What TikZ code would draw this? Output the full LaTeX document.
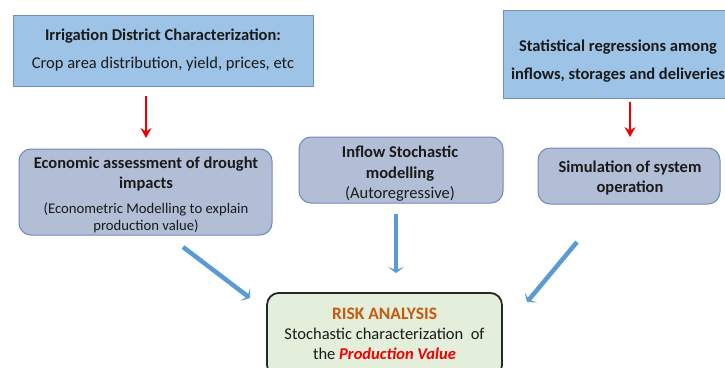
\documentclass[tikz,border=0pt]{standalone}
\usepackage{fontspec}
\setmainfont{Carlito}
\usetikzlibrary{arrows.meta}
\definecolor{topfill}{HTML}{9DC3E6}
\definecolor{topdraw}{HTML}{6C8EC4}
\definecolor{midfill}{HTML}{B2BED6}
\definecolor{middraw}{HTML}{6F8AB8}
\definecolor{riskfill}{HTML}{E3EEDB}
\definecolor{riskorange}{HTML}{C55A11}
\definecolor{arrowblue}{HTML}{5B9BD5}
\definecolor{arrowred}{HTML}{F00000}
\definecolor{txt}{HTML}{1A1A1A}
\tikzset{
  topbox/.style={draw=topdraw, fill=topfill, line width=1pt, inner sep=0pt},
  midbox/.style={draw=middraw, fill=midfill, line width=1pt, rounded corners=12pt, inner sep=0pt},
  riskbox/.style={draw=black!85, fill=riskfill, line width=1.8pt, rounded corners=12pt, inner sep=0pt},
  lbl/.style={align=center, inner sep=0pt, text=txt},
  redarrow/.style={draw=arrowred, line width=2.4pt, -{Stealth[length=10pt,width=11pt,inset=3.5pt]}},
  bluearrow/.style={draw=arrowblue, line width=4.5pt, -{Stealth[length=6pt,width=16pt,inset=3pt]}}
}
\begin{document}
\begin{tikzpicture}[x=1pt,y=-1pt]
\useasboundingbox (0,0) rectangle (725,367);
\clip (0,0) rectangle (725,367);

% top boxes
\node[topbox, minimum width=300pt, minimum height=71pt] (irr) at (163,50.5) {};
\node[lbl, font=\fontsize{16.5}{28}\selectfont] (irrtxt) at (163,50.5)
  {\textbf{Irrigation District Characterization:}\\Crop area distribution, yield, prices, etc};
\node[topbox, minimum width=229pt, minimum height=88pt] (stat) at (617.5,54) {};
\node[lbl, font=\bfseries\fontsize{16.5}{28}\selectfont] (stattxt) at (618,61.5)
  {Statistical regressions among\\inflows, storages and deliveries};

% middle boxes
\node[midbox, minimum width=253pt, minimum height=86pt] (eco) at (145.5,192) {};
\node[lbl, font=\bfseries\fontsize{16.5}{20}\selectfont] (ecotxt) at (146,195)
  {Economic assessment of drought\\impacts\\[5pt]
   {\mdseries\fontsize{14.7}{17}\selectfont (Econometric Modelling to explain}\\[-3pt]
   {\mdseries\fontsize{14.7}{17}\selectfont production value)}};
\node[midbox, minimum width=204pt, minimum height=66pt] (inf) at (401,170) {};
\node[lbl, font=\fontsize{16.5}{20.5}\selectfont] (inftxt) at (400,174)
  {\textbf{Inflow Stochastic}\\\textbf{modelling}\\(Autoregressive)};
\node[midbox, minimum width=182pt, minimum height=56pt] (sim) at (629,176) {};
\node[lbl, font=\bfseries\fontsize{16.5}{20}\selectfont] (simtxt) at (630,178)
  {Simulation of system\\operation};

% risk box
\node[riskbox, minimum width=235pt, minimum height=84pt, anchor=north] (risk) at (384.5,292) {};
\node[lbl, font=\fontsize{16.5}{20}\selectfont] (risktxt) at (384.5,333.5)
  {{\fontsize{17.5}{20}\selectfont\bfseries\color{riskorange}RISK ANALYSIS}\\
   Stochastic characterization\ \ of\\
   the {\color{arrowred}\bfseries\itshape Production Value}};

% red arrows
\coordinate (r1s) at (146,96);
\coordinate (r1e) at (146,138);
\coordinate (r2s) at (630,102);
\coordinate (r2e) at (630,137);
\draw[redarrow] (r1s) -- (r1e);
\draw[redarrow] (r2s) -- (r2e);

% blue arrows
\coordinate (b1s) at (183,247);
\coordinate (b1e) at (250,298);
\coordinate (b2s) at (396,214);
\coordinate (b2e) at (396,273);
\coordinate (b3s) at (577,242);
\coordinate (b3e) at (527,302);
\draw[bluearrow] (b1s) -- (b1e);
\draw[bluearrow] (b2s) -- (b2e);
\draw[bluearrow] (b3s) -- (b3e);
\end{tikzpicture}
\end{document}
